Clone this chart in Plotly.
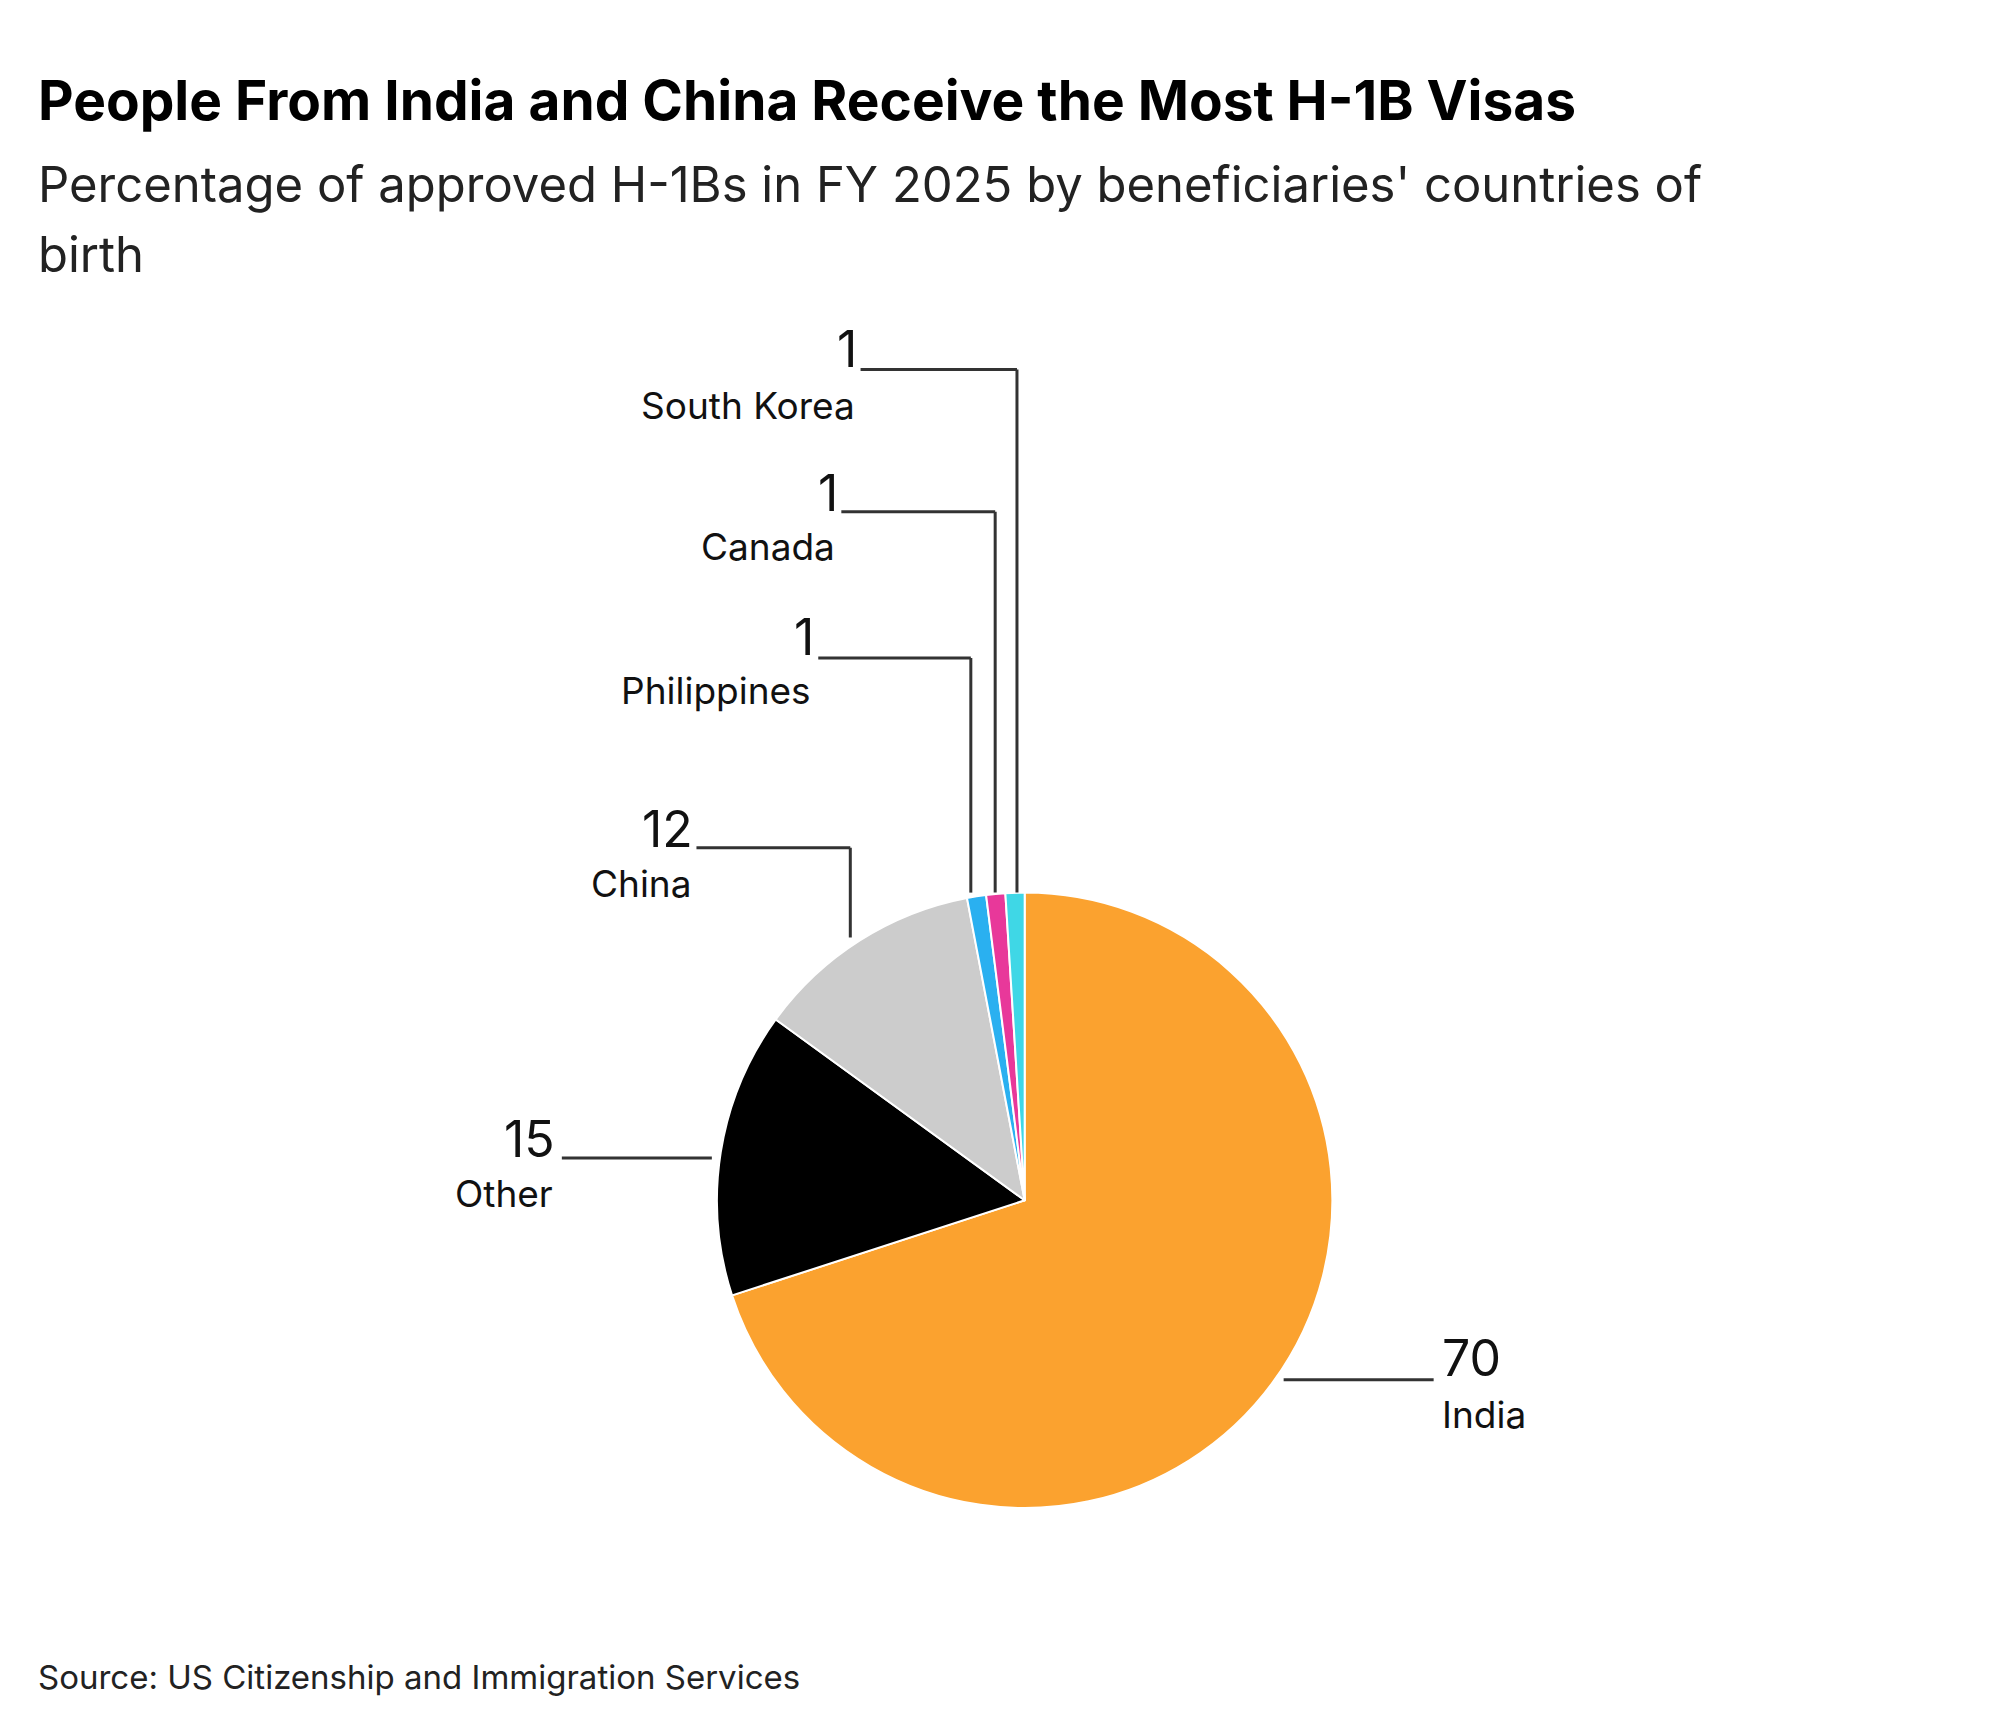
import plotly.graph_objects as go

W, H = 2000, 1727
S = W / 1560.0  # reference measured at 1560 px width

countries = ["India", "Other", "China", "Philippines", "Canada", "South Korea"]
shares = [70, 15, 12, 1, 1, 1]
colors = ["#FBA22F", "#000000", "#CCCCCC", "#2AB0F0", "#E8389A", "#3FD7E6"]

def px(x, y):
    # display coords -> paper coords
    return x * S / W, 1 - y * S / H

fig = go.Figure()

cx, cy, r = 793, 930, 240
x0, y0 = px(cx - r, cy + r)
x1, y1 = px(cx + r, cy - r)
fig.add_trace(go.Pie(
    labels=countries, values=shares, sort=False, direction="clockwise", rotation=0,
    marker=dict(colors=colors, line=dict(color="white", width=2)),
    textinfo="none", hoverinfo="label+value", showlegend=False,
    domain=dict(x=[x0, x1], y=[y0, y1]),
))

# leader lines (display coords) and label anchors
leaders = {
    "South Korea": [(787, 690), (787, 282), (665, 282)],
    "Canada": [(770, 690), (770, 393), (650, 393)],
    "Philippines": [(751, 690), (751, 507), (632, 507)],
    "China": [(657, 725), (657, 655), (537, 655)],
    "Other": [(549, 897), (432, 897)],
    "India": [(995, 1070), (1112, 1070)],
}
label_pos = {
    "South Korea": (662, 310, "right"),
    "Canada": (647, 420, "right"),
    "Philippines": (628, 532, "right"),
    "China": (535, 683, "right"),
    "Other": (427, 925, "right"),
    "India": (1117, 1097, "left"),
}
num_pos = {
    "South Korea": (664, 266),
    "Canada": (649, 378),
    "Philippines": (630, 491),
    "China": (536, 640),
    "Other": (428, 882),
    "India": (1117, 1053),
}

for name, v in zip(countries, shares):
    pts = leaders[name]
    for (ax_, ay_), (bx_, by_) in zip(pts[:-1], pts[1:]):
        p, q = px(ax_, ay_), px(bx_, by_)
        fig.add_shape(type="line", xref="paper", yref="paper",
                      x0=p[0], y0=p[1], x1=q[0], y1=q[1],
                      line=dict(color="#333333", width=3))
    lx, ly, side = label_pos[name]
    p = px(lx, ly)
    fig.add_annotation(x=p[0], y=p[1], xref="paper", yref="paper", text=name,
                       showarrow=False, xanchor=side, yanchor="middle",
                       font=dict(family="Inter", size=37, color="#111111"))
    nx, ny = num_pos[name]
    p = px(nx, ny)
    fig.add_annotation(x=p[0], y=p[1], xref="paper", yref="paper", text=str(v),
                       showarrow=False, xanchor=side, yanchor="middle",
                       font=dict(family="Inter", size=50, color="#111111"))

texts = [
    (22, 72, "<b>People From India and China Receive the Most H-1B Visas</b>", 55, "#000000"),
    (22, 138, "Percentage of approved H-1Bs in FY 2025 by beneficiaries' countries of", 49, "#222222"),
    (22, 192, "birth", 49, "#222222"),
    (22, 1302, "Source: US Citizenship and Immigration Services", 33, "#222222"),
]
for x, y, t, s, c in texts:
    p = px(x, y)
    fig.add_annotation(x=p[0], y=p[1], xref="paper", yref="paper", text=t,
                       showarrow=False, xanchor="left", yanchor="middle",
                       font=dict(family="Inter", size=s, color=c))

fig.update_layout(width=W, height=H, margin=dict(l=0, r=0, t=0, b=0),
                  paper_bgcolor="white", plot_bgcolor="white")
fig.write_html("out.html")
